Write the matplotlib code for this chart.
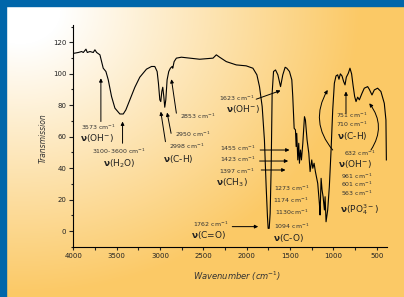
import numpy as np
import matplotlib.pyplot as plt
from matplotlib.patches import Rectangle
from matplotlib.ticker import MultipleLocator

plt.rcParams['font.family'] = ['DejaVu Sans']
plt.rcParams['mathtext.fontset'] = 'custom'
plt.rcParams['mathtext.rm'] = 'DejaVu Sans'
plt.rcParams['mathtext.it'] = 'DejaVu Sans:italic'
plt.rcParams['mathtext.bf'] = 'DejaVu Sans:bold'

# FTIR spectrum
wavenumber = [3992, 3942, 3904, 3885, 3854, 3839, 3808, 3770, 3751, 3731,
              3693, 3674, 3655, 3624, 3597, 3559, 3520, 3463, 3424, 3394,
              3348, 3290, 3233, 3156, 3098, 3060, 3033, 3018, 3002, 2991,
              2979, 2968, 2956, 2945, 2933, 2918, 2899, 2880, 2860, 2853,
              2837, 2811, 2753, 2619, 2542, 2388, 2350, 2312, 2235, 2120,
              2005, 1928, 1882, 1852, 1821, 1795, 1775, 1760, 1752, 1740,
              1729, 1717, 1706, 1690, 1667, 1640, 1609, 1583, 1556, 1537,
              1506, 1479, 1468, 1452, 1437, 1429, 1422, 1410, 1399, 1391,
              1379, 1368, 1352, 1333, 1322, 1303, 1283, 1268, 1249, 1237,
              1222, 1207, 1180, 1161, 1153, 1141, 1130, 1118, 1103, 1095,
              1084, 1065, 1046, 1026, 1007, 988, 969, 950, 935, 919,
              900, 881, 865, 850, 827, 808, 789, 773, 754, 738,
              719, 700, 669, 643, 604, 585, 554, 527, 489, 451,
              412, 401, 393, 388]
transmission = [113.0, 113.5, 114.1, 113.5, 115.6, 113.5, 114.1, 113.5, 115.2, 113.5,
                112.0, 107.7, 103.5, 101.4, 96.1, 85.5, 78.1, 74.4, 74.4, 77.0,
                83.4, 91.4, 97.8, 102.9, 104.6, 104.6, 101.4, 94.0, 83.4, 82.3,
                88.7, 91.4, 85.5, 78.7, 83.4, 96.1, 101.4, 103.5, 104.6, 103.5,
                107.7, 109.9, 110.5, 109.7, 109.2, 109.9, 112.0, 110.5, 107.7, 105.6,
                105.0, 103.5, 99.3, 91.8, 79.1, 57.9, 28.2, 9.1, 1.7, 1.7,
                11.2, 40.9, 87.6, 101.4, 102.4, 99.3, 91.8, 99.3, 104.1, 103.5,
                101.4, 96.1, 85.5, 65.3, 64.3, 53.7, 62.1, 45.2, 55.8, 43.1,
                51.5, 45.2, 55.8, 72.7, 70.6, 57.9, 49.4, 37.8, 45.2, 39.9,
                43.1, 37.8, 30.3, 17.6, 10.2, 33.5, 26.1, 21.8, 13.4, 21.8,
                5.9, 13.4, 28.2, 51.5, 77.0, 94.0, 98.6, 99.3, 96.5, 99.9,
                98.6, 95.0, 92.9, 97.8, 100.3, 103.5, 99.9, 92.9, 85.5, 82.3,
                85.1, 83.4, 87.6, 90.8, 91.8, 90.1, 86.5, 89.7, 90.8, 88.7,
                81.2, 74.9, 70.6, 45.2]

# band labels: x, y, text
small_labels = [
    (3708, 66.0, "3573 cm$^{-1}$"),
    (3470, 50.5, "3100-3600 cm$^{-1}$"),
    (2561, 72.7, "2853 cm$^{-1}$"),
    (2626, 61.7, "2950 cm$^{-1}$"),
    (2695, 53.7, "2998 cm$^{-1}$"),
    (2120, 84.2, "1623 cm$^{-1}$"),
    (2108, 52.6, "1455 cm$^{-1}$"),
    (2108, 45.8, "1423 cm$^{-1}$"),
    (2120, 38.2, "1397 cm$^{-1}$"),
    (2419, 4.5, "1762 cm$^{-1}$"),
    (1479, 27.1, "1273 cm$^{-1}$"),
    (1487, 19.3, "1174 cm$^{-1}$"),
    (1479, 11.9, "1130cm$^{-1}$"),
    (1479, 2.8, "1094 cm$^{-1}$"),
    (792, 73.6, "751 cm$^{-1}$"),
    (792, 68.0, "710 cm$^{-1}$"),
    (700, 49.6, "632 cm$^{-1}$"),
    (731, 35.0, "961 cm$^{-1}$"),
    (731, 29.6, "601 cm$^{-1}$"),
    (731, 24.2, "563 cm$^{-1}$"),
]
big_labels = [
    (3731, 59.0, r"$\mathbf{\nu}$(OH$^{-}$)"),
    (3470, 42.6, r"$\mathbf{\nu}$(H$_2$O)"),
    (2788, 45.6, r"$\mathbf{\nu}$(C-H)"),
    (2043, 77.4, r"$\mathbf{\nu}$(OH$^{-}$)"),
    (2170, 30.8, r"$\mathbf{\nu}$(CH$_3$)"),
    (2438, -2.5, r"$\mathbf{\nu}$(C=O)"),
    (1517, -4.2, r"$\mathbf{\nu}$(C-O)"),
    (777, 60.4, r"$\mathbf{\nu}$(C-H)"),
    (750, 42.8, r"$\mathbf{\nu}$(OH$^{-}$)"),
    (700, 13.8, r"$\mathbf{\nu}$(PO$_4^{3-}$)"),
]
# arrows: (start x, start y, tip x, tip y, bend)
arrows = [
    (3682, 69.6, 3682, 97.1, 0),
    (3432, 55.8, 3432, 69.6, 0),
    (2937, 56.8, 2991, 75.9, 0),
    (2872, 62.1, 2918, 75.3, 0),
    (2811, 74.9, 2868, 96.5, 0),
    (1890, 83.8, 1609, 89.3, 0),
    (1844, 51.5, 1506, 51.5, 0),
    (1851, 44.5, 1521, 44.5, 0),
    (1832, 38.8, 1552, 38.8, 0),
    (2166, 2.8, 1867, 2.8, 0),
    (854, 74.9, 854, 88.7, 0),
    (1007, 51.5, 1065, 89.7, -0.35),
    (566, 51.5, 585, 81.2, 0.35),
]

W, H = 404, 297
fig = plt.figure(figsize=(W / 100, H / 100), dpi=100)

# background: white corner fading to orange, blue frame top/left
bg = fig.add_axes([0, 0, 1, 1], zorder=0)
yy, xx = np.mgrid[0:H, 0:W]
d = np.hypot(xx - 20, (yy - 10) * 1.2)
t = np.clip((d - 40) / 300, 0, 1)[..., None]
orange = np.array([251, 201, 102]) / 255
img = (1 - t) * np.ones(3) + t * orange
bg.imshow(img, extent=[0, W, H, 0], aspect='auto')
bg.add_patch(Rectangle((0, 0), W, 6, color='#0066aa'))
bg.add_patch(Rectangle((0, 0), 6, H, color='#0066aa'))
bg.set_xlim(0, W)
bg.set_ylim(H, 0)
bg.axis('off')

ax = fig.add_axes([0.1815, 0.167, 0.7755, 0.749], zorder=1)
ax.patch.set_alpha(0)
ax.plot(wavenumber, transmission, color='black', lw=0.8)
ax.set_xlim(4000, 385)
ax.set_ylim(-10.4, 131)
for s in ['top', 'right']:
    ax.spines[s].set_visible(False)
for s in ['left', 'bottom']:
    ax.spines[s].set_linewidth(0.8)

ax.xaxis.set_major_locator(MultipleLocator(500))
ax.xaxis.set_minor_locator(MultipleLocator(250))
ax.yaxis.set_major_locator(MultipleLocator(20))
ax.yaxis.set_minor_locator(MultipleLocator(10))
ax.tick_params(which='both', direction='out', width=0.8, labelsize=5,
               colors='#222222', pad=2)
ax.tick_params(axis='x', which='both', length=2.2)
ax.tick_params(axis='y', which='major', length=3)
ax.tick_params(axis='y', which='minor', length=1.8)

for x, y, s in small_labels:
    ax.text(x, y, s, fontsize=4.5, color='#333333', ha='center', va='center')
for x, y, s in big_labels:
    ax.text(x, y, s, fontsize=6.5, color='#222222', ha='center', va='center')
for x0, y0, x1, y1, rad in arrows:
    ax.annotate('', xy=(x1, y1), xytext=(x0, y0),
                arrowprops=dict(arrowstyle='-|>', lw=0.7, color='black',
                                mutation_scale=5, shrinkA=0, shrinkB=0,
                                connectionstyle=f'arc3,rad={rad}'))

fig.text(43 / W, 1 - 138 / H, 'Transmission', rotation=90, style='italic',
         fontsize=5.5, color='#333333', ha='center', va='center')
fig.text(237 / W, 1 - 276 / H, 'Wavenumber (cm$^{-1}$)', style='italic',
         fontsize=6, color='#333333', ha='center', va='center')

fig.savefig('out.png', dpi=100)
